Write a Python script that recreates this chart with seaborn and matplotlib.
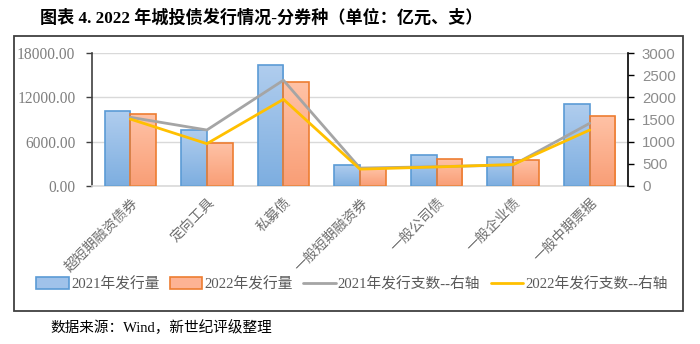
import numpy as np
import pandas as pd
import matplotlib
matplotlib.use("Agg")
import matplotlib.pyplot as plt
import matplotlib.patches as mpatches
from matplotlib.lines import Line2D
from matplotlib.colors import LinearSegmentedColormap
import seaborn as sns

categories = ["超短期融资债券", "定向工具", "私募债", "一般短期融资券", "一般公司债", "一般企业债", "一般中期票据"]
vol_2021 = [10150, 7530, 16370, 2770, 4210, 3900, 11100]
vol_2022 = [9750, 5800, 14100, 2380, 3630, 3540, 9480]
cnt_2021 = [1550, 1262, 2390, 400, 430, 470, 1414]
cnt_2022 = [1510, 952, 1957, 375, 425, 480, 1262]
left_ticks = [0, 6000, 12000, 18000]
right_ticks = [0, 500, 1000, 1500, 2000, 2500, 3000]
legend_labels = ["2021年发行量", "2022年发行量", "2021年发行支数--右轴", "2022年发行支数--右轴"]
title = "图表 4. 2022 年城投债发行情况-分券种（单位：亿元、支）"
source = "数据来源：Wind，新世纪评级整理"

sns.set_theme(style="white")
plt.rcParams['font.family'] = ['Liberation Serif', 'Noto Sans CJK SC', 'DejaVu Sans']
serif_cjk = ['Liberation Serif', 'Noto Sans CJK SC']

W, H = 700, 344
fig = plt.figure(figsize=(7.0, 3.44), dpi=100)
ax = fig.add_axes([92 / W, 1 - 185.7 / H, (628 - 92) / W, (185.7 - 53.3) / H])

df = pd.DataFrame({
    "cat": categories * 2,
    "val": vol_2021 + vol_2022,
    "year": ["2021"] * len(categories) + ["2022"] * len(categories),
})
blue_edge, orange_edge = "#5B9BD5", "#ED7D31"
sns.barplot(data=df, x="cat", y="val", hue="year", order=categories,
            palette={"2021": blue_edge, "2022": orange_edge},
            width=0.67, gap=0, legend=False, ax=ax, zorder=2)

ax.set_ylim(0, 18000)
ax.set_xlim(-0.5, len(categories) - 0.5)

# gradient fills
cmap_b = LinearSegmentedColormap.from_list("b", ["#7DAEE0", "#B0CDEE"])
cmap_o = LinearSegmentedColormap.from_list("o", ["#F99E76", "#FFC2A6"])
grad = np.linspace(0, 1, 256).reshape(-1, 1)
n = len(categories)
for i, p in enumerate(list(ax.patches)):
    is_blue = i < n
    p.set_facecolor("none")
    p.set_edgecolor(blue_edge if is_blue else orange_edge)
    p.set_linewidth(1.2)
    p.set_zorder(3)
    x0, y0 = p.get_x(), p.get_y()
    w, h = p.get_width(), p.get_height()
    im = ax.imshow(grad, cmap=cmap_b if is_blue else cmap_o, origin="lower",
                   extent=[x0, x0 + w, y0, y0 + h], aspect="auto", zorder=2.5)
    im.set_clip_path(p)
ax.set_xlim(-0.5, len(categories) - 0.5)
ax.set_ylim(0, 18000)

ax.set_yticks(left_ticks)
ax.set_yticklabels([f"{v:.2f}" for v in left_ticks], fontsize=11.2, color="#7F7F7F",
                   family=serif_cjk)
ax.yaxis.grid(True, color="#D9D9D9", linewidth=1, zorder=0)
ax.set_axisbelow(True)
ax.set_xlabel("")
ax.set_ylabel("")
ax.set_xticks(range(n))
ax.set_xticklabels(categories, rotation=45, ha="right", va="top", rotation_mode="anchor",
                   fontsize=10, color="#6E6E6E", family=['Noto Sans CJK SC'])
ax.tick_params(axis="x", length=0, pad=7)
ax.tick_params(axis="y", left=True, length=4, width=1, color="#404040", direction="out", pad=8)
for s in ["top", "right"]:
    ax.spines[s].set_visible(False)
ax.spines["left"].set_color("#404040")
ax.spines["left"].set_linewidth(1.2)
ax.spines["bottom"].set_color("#D9D9D9")
ax.spines["bottom"].set_linewidth(1.2)

ax2 = ax.twinx()
ldf = pd.DataFrame({"x": list(range(n)) * 2, "v": cnt_2021 + cnt_2022,
                    "s": ["a"] * n + ["b"] * n})
sns.lineplot(data=ldf, x="x", y="v", hue="s", palette={"a": "#A5A5A5", "b": "#FFC000"},
             linewidth=2, legend=False, ax=ax2)
ax2.set_ylim(0, 3000)
ax2.set_xlim(-0.5, n - 0.5)
ax2.set_yticks(right_ticks)
ax2.set_yticklabels([str(v) for v in right_ticks], fontsize=10.8, color="#8C8C8C",
                    family=['Liberation Sans'])
ax2.set_ylabel("")
ax2.set_xlabel("")
ax2.tick_params(axis="y", right=True, length=4, width=1, color="#000000", direction="out", pad=6)
for s in ["top", "left", "bottom"]:
    ax2.spines[s].set_visible(False)
ax2.spines["right"].set_color("#000000")
ax2.spines["right"].set_linewidth(1.2)
ax2.grid(False)

# legend
handles = [
    mpatches.Patch(facecolor="#A0C2EA", edgecolor=blue_edge, linewidth=1.2),
    mpatches.Patch(facecolor="#FDB394", edgecolor=orange_edge, linewidth=1.2),
    Line2D([0], [0], color="#A5A5A5", linewidth=2),
    Line2D([0], [0], color="#FFC000", linewidth=2),
]
fig.legend(handles, legend_labels, loc="center", bbox_to_anchor=(352 / W, 1 - 284 / H),
           ncol=4, frameon=False, handlelength=2.2, handleheight=0.8, handletextpad=0.15,
           columnspacing=0.7, prop={"family": serif_cjk, "size": 10.6},
           labelcolor="#595959")

# outer frame
fig.add_artist(mpatches.Rectangle((13.5 / W, 1 - 310.5 / H), (683 - 13.5) / W, (310.5 - 36) / H,
                                  transform=fig.transFigure, fill=False, edgecolor="#404040",
                                  linewidth=1.3))

fig.text(40 / W, 1 - 18 / H, title, fontsize=12.3, fontweight="bold", va="center", ha="left",
         family=serif_cjk, color="#000000")
fig.text(50 / W, 1 - 328 / H, source, fontsize=10.5, va="center", ha="left",
         family=serif_cjk, color="#000000")

fig.savefig("out.png", dpi=100)
